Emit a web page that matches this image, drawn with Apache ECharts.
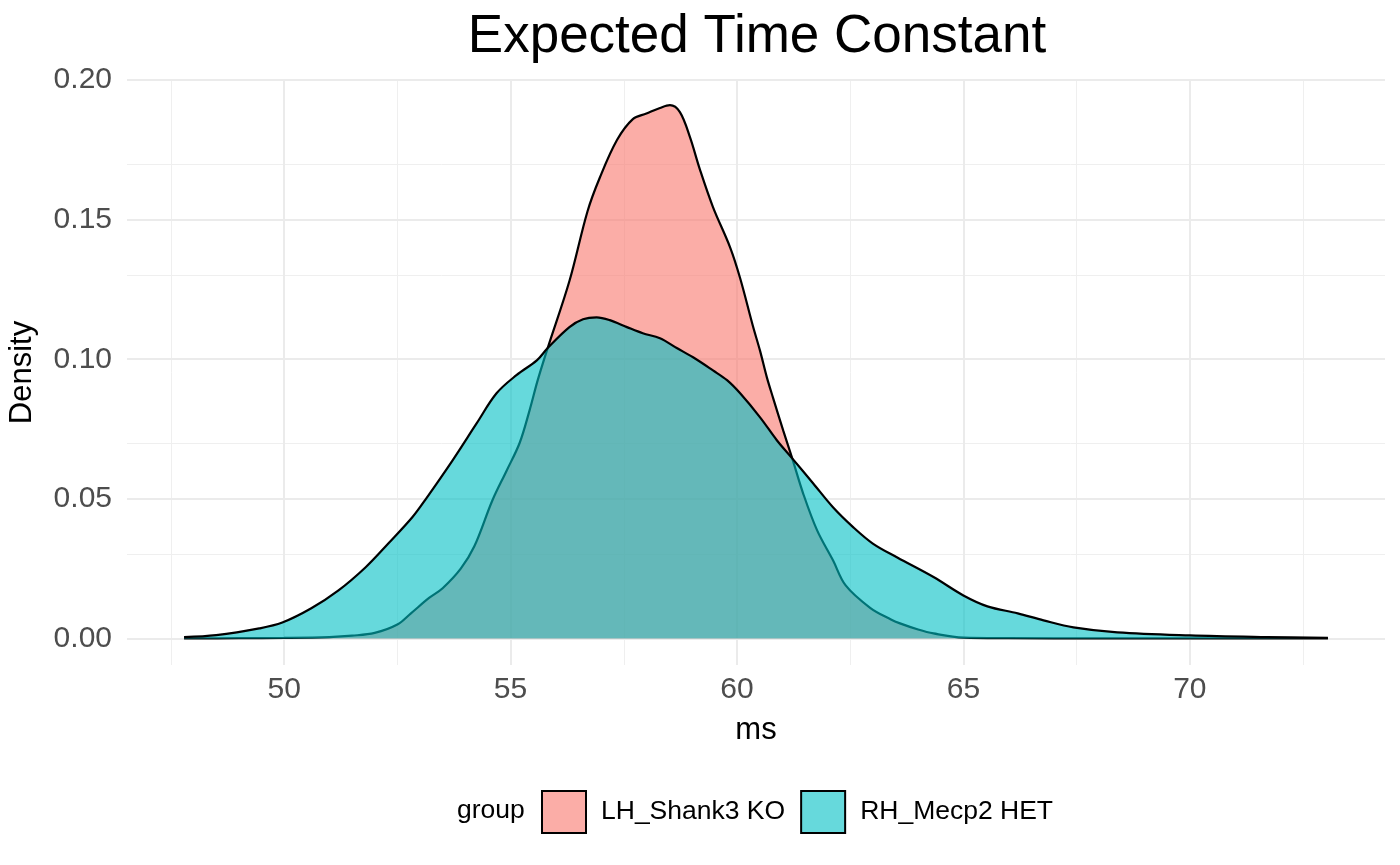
<!DOCTYPE html>
<html>
<head>
<meta charset="utf-8">
<script src="https://cdn.jsdelivr.net/npm/echarts@6/dist/echarts.min.js"></script>
<style>html,body{margin:0;padding:0;background:#fff;}#c{width:1400px;height:865px;}</style>
</head>
<body>
<div id="c"></div>
<script>
// ---- data ----
const groups = ['LH_Shank3 KO', 'RH_Mecp2 HET'];
const redX = [47.79,49.0,50.0,51.0,51.5,52.0,52.5,52.8,53.2,53.5,53.9,54.2,54.6,54.91,55.2,55.42,55.6,55.82,56.3,56.7,56.97,57.35,57.7,58.0,58.3,58.52,58.74,58.96,59.18,59.47,59.85,60.07,60.35,60.51,60.66,60.8,61.02,61.22,61.46,61.77,62.12,62.4,62.94,63.4,63.6,64.0,64.34,65.0,66.0,68.0,73.05];
const redY = [0,0.0001,0.0002,0.0005,0.001,0.002,0.005,0.009,0.0145,0.018,0.025,0.033,0.0495,0.060,0.070,0.0817,0.0925,0.104,0.128,0.153,0.165,0.1785,0.186,0.188,0.190,0.191,0.1885,0.1796,0.168,0.1545,0.140,0.129,0.112,0.103,0.0935,0.086,0.0745,0.0645,0.052,0.0387,0.028,0.019,0.011,0.0068,0.0054,0.0032,0.0018,0.0003,0.0001,0,0];
const cyanX = [47.79,48.5,49.45,49.96,50.6,51.2,51.8,52.3,52.83,53.14,53.72,54.25,54.69,55.13,55.58,55.82,56.3,56.6,56.9,57.19,57.57,57.92,58.3,58.67,59.03,59.47,59.78,60.07,60.51,60.88,61.22,61.68,62.12,62.57,63.0,63.54,64.34,65.0,65.53,66.2,66.77,67.43,68.4,70.0,71.7,73.05];
const cyanY = [0.0005,0.0012,0.0036,0.0057,0.0108,0.0172,0.0255,0.034,0.0434,0.0502,0.0638,0.077,0.0878,0.0943,0.0996,0.104,0.1115,0.1143,0.1150,0.114,0.1115,0.1093,0.1075,0.104,0.1007,0.096,0.0925,0.0878,0.0792,0.071,0.0645,0.0556,0.047,0.0398,0.034,0.029,0.022,0.0154,0.0115,0.009,0.0065,0.004,0.0022,0.0011,0.0005,0.0002];
const xTicks = [50,55,60,65,70];
const xMinor = [47.5,52.5,57.5,62.5,67.5,72.5];
const yTicks = [0,0.05,0.10,0.15,0.20];
const yMinor = [0.025,0.075,0.125,0.175];

const pairs = (xs, ys) => xs.map((x, i) => [x, ys[i]]);
const majorStyle = {color:'#EBEBEB', width:2, type:'solid'};
const minorStyle = {color:'#EFEFEF', width:1, type:'solid'};
const gridLines = []
  .concat(xMinor.map(v => ({xAxis: v, lineStyle: minorStyle})))
  .concat(yMinor.map(v => ({yAxis: v, lineStyle: minorStyle})))
  .concat(xTicks.map(v => ({xAxis: v, lineStyle: majorStyle})))
  .concat(yTicks.map(v => ({yAxis: v, lineStyle: majorStyle})));

const chart = echarts.init(document.getElementById('c'), null, {renderer:'canvas'});
const font = 'Liberation Sans, Arial, Helvetica, sans-serif';
chart.setOption({
  animation: false,
  backgroundColor: '#fff',
  title: {
    text: 'Expected Time Constant',
    left: 757, top: 11, textAlign: 'center', padding: 0,
    textStyle: {fontFamily: font, fontSize: 53, fontWeight: 'normal', color: '#000'}
  },
  grid: {left: 127, right: 15, top: 80, bottom: 200, containLabel: false, outerBoundsMode: 'none'},
  xAxis: {
    type: 'value', min: 46.53, max: 74.31,
    name: 'ms', nameLocation: 'middle', nameGap: 50,
    nameTextStyle: {fontFamily: font, fontSize: 31, color: '#000'},
    axisLine: {show: false}, axisTick: {show: false}, splitLine: {show: false},
    axisLabel: {customValues: xTicks, margin: 10, fontFamily: font, fontSize: 30, color: '#4D4D4D'}
  },
  yAxis: {
    type: 'value', min: -0.0095, max: 0.2,
    name: 'Density', nameLocation: 'middle', nameRotate: 90, nameGap: 89,
    nameTextStyle: {fontFamily: font, fontSize: 31, color: '#000'},
    axisLine: {show: false}, axisTick: {show: false}, splitLine: {show: false},
    axisLabel: {customValues: yTicks, margin: 15, fontFamily: font, fontSize: 30, color: '#4D4D4D',
      formatter: v => v.toFixed(2)}
  },
  legend: {
    left: 541, top: 790, orient: 'horizontal', padding: 0,
    itemWidth: 44, itemHeight: 42, itemGap: 15,
    textStyle: {fontFamily: font, fontSize: 26.5, color: '#000', padding: [0,0,0,10]},
    data: [
      {name: groups[0], icon: 'rect', itemStyle: {color: '#FBADA7', borderColor: '#000', borderWidth: 2, opacity: 1}},
      {name: groups[1], icon: 'rect', itemStyle: {color: '#66D9DC', borderColor: '#000', borderWidth: 2, opacity: 1}}
    ]
  },
  graphic: [{
    type: 'text', left: 457, top: 797,
    style: {text: 'group', fontFamily: font, fontSize: 26.5, fill: '#000'}
  }],
  series: [
    {
      name: '__grid', type: 'line', data: [], z: 0, silent: true,
      markLine: {silent: true, symbol: 'none', z: 0, label: {show: false}, data: gridLines, animation: false}
    },
    {
      name: groups[0], type: 'line', z: 3, smooth: 0.35, showSymbol: false, symbol: 'none',
      data: pairs(redX, redY),
      color: '#F8766D',
      lineStyle: {color: '#000', width: 2.2},
      areaStyle: {color: '#F8766D', opacity: 0.6}
    },
    {
      name: groups[1], type: 'line', z: 4, smooth: 0.35, showSymbol: false, symbol: 'none',
      data: pairs(cyanX, cyanY),
      color: '#00BFC4',
      lineStyle: {color: '#000', width: 2.2},
      areaStyle: {color: '#00BFC4', opacity: 0.6}
    }
  ]
});
</script>
</body>
</html>
